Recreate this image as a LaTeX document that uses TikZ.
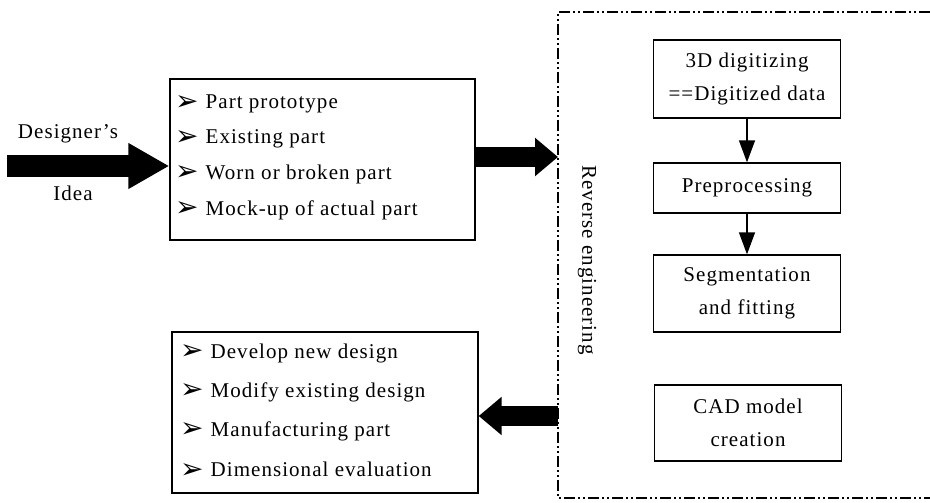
\documentclass[tikz,border=0pt]{standalone}
\usepackage{fontspec}
\setmainfont{Liberation Serif}[LetterSpace=5]
\newfontfamily\dejavu{DejaVu Sans}
\usetikzlibrary{arrows.meta}
\newcommand{\bul}{\raisebox{-1.5pt}{\dejavu\fontsize{28}{28}\selectfont ➢}\hspace{7pt}}
\begin{document}
\begin{tikzpicture}[x=1pt,y=-1pt,
  every node/.style={font=\fontsize{21}{33}\selectfont, inner sep=0pt},
  listbox/.style={draw, line width=1.4pt, minimum width=305pt, minimum height=161pt},
  stepbox/.style={draw, line width=1.3pt, minimum width=187pt, align=center},
  item/.style={anchor=west},
  bigarrow/.style={line width=20pt, -{Triangle[length=23pt,width=37pt]}},
  ideaarrow/.style={line width=22pt, -{Triangle[length=41pt,width=43pt]}},
  smallarrow/.style={line width=1.3pt, -{Triangle[length=22pt,width=16pt]}},
  regroup/.style={line width=1.8pt, dash pattern=on 11pt off 3pt on 2pt off 3pt on 2pt off 3pt}
]
\useasboundingbox (0,0) rectangle (930,503);
\fill[white] (0,0) rectangle (930,503);

% Reverse engineering region (open on the right)
\coordinate (reTR) at (930,12);
\coordinate (reTL) at (558,12);
\coordinate (reBL) at (558,498);
\coordinate (reBR) at (930,498);
\draw[regroup] (reTR) -- (reTL) -- (reBL) -- (reBR);
\node[rotate=-90] (relabel) at (587,260) {Reverse engineering};

% input list box
\node[listbox] (src) at (322.5,159.5) {};
\node[item] (s1) at (175,104) {\bul Part prototype};
\node[item] (s2) at (175,139) {\bul Existing part};
\node[item] (s3) at (175,174) {\bul Worn or broken part};
\node[item] (s4) at (175,210) {\bul Mock-up of actual part};

% output list box
\node[listbox, minimum width=306pt] (out) at (325,412.5) {};
\node[item] (o1) at (180,353) {\bul Develop new design};
\node[item] (o2) at (180,392) {\bul Modify existing design};
\node[item] (o3) at (180,431) {\bul Manufacturing part};
\node[item] (o4) at (180,470) {\bul Dimensional evaluation};

% designer's idea
\node (dtext) at (68,134) {Designer's};
\node (idea) at (73,193) {Idea};
\coordinate (dstart) at (7,166);
\draw[ideaarrow] (dstart) -- (dstart -| src.west);

% steps
\node[stepbox, minimum height=78pt] (dig) at (747,79) {3D digitizing\\==Digitized data};
\node[stepbox, minimum height=50pt] (pre) at (747,188) {Preprocessing};
\node[stepbox, minimum height=77pt] (seg) at (747,293.5) {Segmentation\\and fitting};
\node[stepbox, minimum height=76pt] (cad) at (748,423) {CAD model\\creation};
\draw[smallarrow] (dig) -- (pre);
\draw[smallarrow] (pre) -- (seg);

% big connectors
\coordinate (reIn) at (558,157);
\coordinate (reOut) at (558,416);
\draw[bigarrow] (reIn -| src.east) -- (reIn);
\draw[bigarrow] (reOut) -- (reOut -| out.east);
\end{tikzpicture}
\end{document}
